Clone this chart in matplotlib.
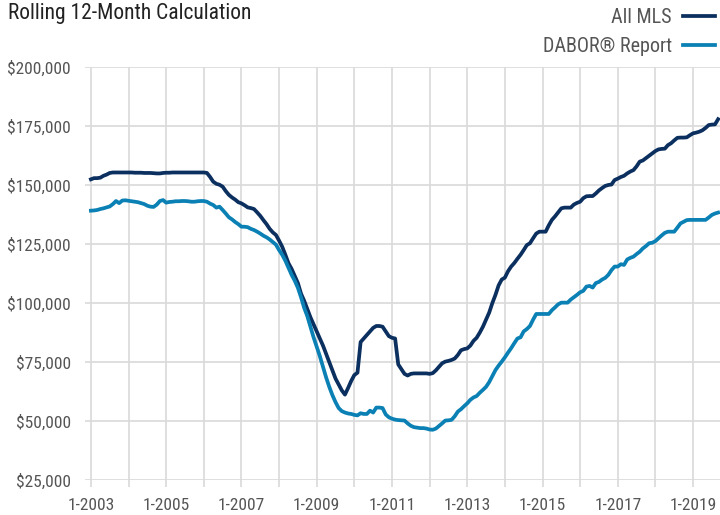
import numpy as np
import matplotlib
matplotlib.use("Agg")
import matplotlib.pyplot as plt
from matplotlib.ticker import FuncFormatter

plt.rcParams['font.family'] = ['Roboto Condensed', 'Archivo Narrow', 'DejaVu Sans']

# monthly rolling 12-month values, in $ thousands, starting Jan 2003
start_year = 2003
all_mls = [
    152.5, 153.0, 153.0, 153.2, 154.0, 154.5, 155.2, 155.4, 155.4, 155.4, 155.4, 155.4,  # 2003
    155.4, 155.4, 155.3, 155.3, 155.3, 155.2, 155.2, 155.2, 155.1, 155.0, 155.0, 155.2,  # 2004
    155.3, 155.3, 155.4, 155.4, 155.4, 155.4, 155.4, 155.4, 155.4, 155.4, 155.4, 155.4,  # 2005
    155.4, 155.2, 153.5, 151.5, 150.6, 150.2, 149.4, 147.5, 145.9, 144.8, 143.9, 142.8,  # 2006
    142.3, 141.5, 140.6, 140.3, 139.9, 138.5, 137.0, 135.2, 133.5, 131.5, 130.0, 128.9,  # 2007
    126.5, 123.9, 120.5, 116.9, 114.5, 111.5, 108.5, 104.0, 101.0, 97.5, 94.0, 91.0,     # 2008
    88.0, 85.0, 82.0, 78.5, 75.0, 71.5, 68.0, 65.5, 63.0, 61.2, 64.0, 67.0,              # 2009
    69.5, 70.5, 83.5, 85.0, 86.5, 88.0, 89.5, 90.3, 90.3, 90.0, 88.0, 86.0,              # 2010
    85.3, 85.0, 74.0, 72.0, 70.0, 69.3, 70.0, 70.2, 70.2, 70.2, 70.2, 70.2,              # 2011
    70.0, 70.3, 71.5, 73.0, 74.5, 75.2, 75.5, 75.9, 76.5, 78.0, 80.0, 80.5,              # 2012
    80.8, 82.0, 84.0, 85.3, 87.5, 90.0, 93.0, 96.0, 100.0, 103.5, 107.5, 110.0,          # 2013
    110.8, 113.5, 115.5, 117.0, 118.8, 120.5, 122.5, 124.6, 125.4, 127.5, 129.5, 130.3,  # 2014
    130.3, 130.3, 133.0, 135.3, 136.8, 138.5, 140.2, 140.5, 140.5, 140.5, 141.8, 142.5,  # 2015
    143.0, 144.5, 145.3, 145.4, 145.4, 146.5, 147.8, 148.8, 149.7, 150.1, 150.3, 152.2,  # 2016
    152.8, 153.5, 154.0, 155.0, 155.8, 156.4, 158.0, 160.0, 160.5, 161.5, 162.5, 163.5,  # 2017
    164.5, 165.2, 165.4, 165.5, 167.0, 167.8, 169.0, 170.1, 170.2, 170.2, 170.3, 171.2,  # 2018
    172.0, 172.3, 172.7, 173.3, 174.3, 175.5, 175.7, 175.8, 178.0,                       # 2019
]
dabor = [
    139.2, 139.3, 139.5, 139.9, 140.2, 140.6, 141.0, 142.0, 143.3, 142.4, 143.5, 143.6,  # 2003
    143.4, 143.2, 143.0, 142.8, 142.4, 142.0, 141.3, 140.9, 140.8, 141.8, 143.3, 143.7,  # 2004
    142.6, 142.9, 143.0, 143.2, 143.2, 143.3, 143.3, 143.2, 143.0, 143.0, 143.2, 143.3,  # 2005
    143.3, 143.0, 142.2, 141.6, 140.5, 140.9, 139.5, 138.0, 136.4, 135.5, 134.4, 133.5,  # 2006
    132.4, 132.4, 132.2, 131.5, 131.0, 130.3, 129.5, 128.6, 127.9, 127.0, 125.9, 124.8,  # 2007
    122.5, 120.5, 118.0, 115.0, 112.0, 109.5, 106.5, 102.5, 98.0, 94.5, 90.0, 85.5,      # 2008
    81.5, 77.5, 73.0, 68.5, 64.5, 61.0, 58.0, 55.5, 54.2, 53.6, 53.2, 53.0,              # 2009
    52.6, 52.4, 53.3, 53.0, 53.0, 54.4, 53.6, 55.7, 55.7, 55.5, 52.8, 51.6,              # 2010
    51.0, 50.6, 50.4, 50.3, 50.2, 49.0, 48.0, 47.4, 47.2, 47.0, 47.0, 46.8,              # 2011
    46.4, 46.3, 46.8, 47.9, 49.0, 50.2, 50.3, 50.5, 52.0, 54.0, 55.0, 56.3,              # 2012
    57.5, 59.0, 60.0, 60.6, 62.0, 63.2, 64.5, 66.5, 69.0, 71.6, 73.5, 75.2,              # 2013
    77.0, 79.0, 80.9, 83.0, 85.0, 85.5, 88.0, 89.0, 90.3, 93.0, 95.4, 95.4,              # 2014
    95.4, 95.4, 95.4, 97.0, 98.2, 99.5, 100.2, 100.2, 100.2, 101.5, 102.5, 103.5,        # 2015
    104.6, 105.2, 107.0, 107.3, 106.6, 108.5, 109.0, 110.0, 110.7, 112.0, 114.0, 115.5,  # 2016
    115.5, 116.5, 116.2, 118.5, 119.2, 119.7, 120.8, 121.8, 123.2, 124.2, 125.4, 125.6,  # 2017
    126.3, 127.5, 128.7, 129.8, 130.3, 130.3, 130.3, 132.0, 133.8, 134.5, 135.2, 135.3,  # 2018
    135.3, 135.3, 135.3, 135.3, 135.3, 136.3, 137.4, 138.0, 138.4,                       # 2019
]
y_ticks = [25, 50, 75, 100, 125, 150, 175, 200]
series_names = ["All MLS", "DABOR\u00ae Report"]
series_colors = ["#0b2f5f", "#0a80b4"]

months = np.arange(len(all_mls))
n_years = len(all_mls) // 12 + 1
year_ticks = np.arange(0, n_years * 12, 12)
year_labels = [f"1-{start_year + i}" if i % 2 == 0 else "" for i in range(n_years)]

fig = plt.figure(figsize=(7.2, 5.15), dpi=100)
ax = fig.add_axes([0.118, 0.068, 0.882, 0.8013])

grid_c = "#d9d9d9"
ax.plot(months, all_mls, color=series_colors[0], lw=2.7, label=series_names[0],
        solid_joinstyle="round", zorder=3)
ax.plot(months, dabor, color=series_colors[1], lw=2.7, label=series_names[1],
        solid_joinstyle="round", zorder=3)

ax.set_xlim(-1.9, 200.6)
ax.set_ylim(25, 200)
ax.set_yticks(y_ticks)
ax.yaxis.set_major_formatter(FuncFormatter(lambda v, p: f"${v * 1000:,.0f}"))
ax.set_xticks(year_ticks)
ax.set_xticklabels(year_labels)

ax.grid(True, color=grid_c, lw=1.2)
ax.set_axisbelow(True)
for s in ax.spines.values():
    s.set_visible(False)
ax.tick_params(axis="y", length=0, pad=10, labelsize=12.5, labelcolor="#555555")
ax.tick_params(axis="x", length=5, width=1.2, color=grid_c, pad=8,
               labelsize=12.5, labelcolor="#555555")

fig.text(0.011, 0.995, "Rolling 12-Month Calculation", ha="left", va="top",
         fontsize=15.5, color="#222222")

ax.legend(loc="upper right", bbox_to_anchor=(1.0, 0.994), bbox_transform=fig.transFigure,
          frameon=False, markerfirst=False, handlelength=1.6, handletextpad=0.55,
          labelspacing=0.5, borderpad=0.25, borderaxespad=0,
          prop={"size": 14.5}, labelcolor="#555555")

fig.savefig("out.png", dpi=100)
